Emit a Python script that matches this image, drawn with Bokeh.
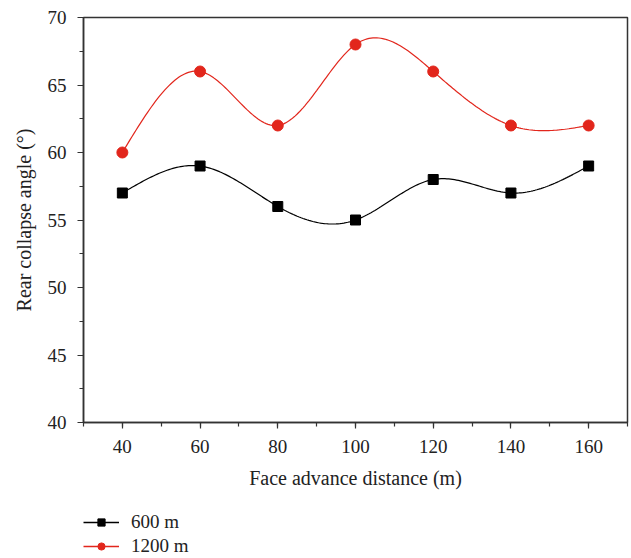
import numpy as np
from bokeh.plotting import figure
from bokeh.layouts import column
from bokeh.models import Range1d, Legend, LegendItem, FixedTicker
from bokeh.embed import file_html
from bokeh.resources import INLINE

distance = [40, 60, 80, 100, 120, 140, 160]
angle_600 = [57, 59, 56, 55, 58, 57, 59]
angle_1200 = [60, 66, 62, 68, 66, 62, 62]
x_ticks = [40, 60, 80, 100, 120, 140, 160]
y_ticks = [40, 45, 50, 55, 60, 65, 70]
series_names = ["600 m", "1200 m"]

FONT = "Liberation Serif"
RED = "#e2261c"


def natural_spline(x, y, n=40):
    x = np.asarray(x, float)
    y = np.asarray(y, float)
    k = len(x)
    h = np.diff(x)
    A = np.zeros((k, k))
    b = np.zeros(k)
    A[0, 0] = 1
    A[-1, -1] = 1
    for i in range(1, k - 1):
        A[i, i - 1] = h[i - 1]
        A[i, i] = 2 * (h[i - 1] + h[i])
        A[i, i + 1] = h[i]
        b[i] = 6 * ((y[i + 1] - y[i]) / h[i] - (y[i] - y[i - 1]) / h[i - 1])
    M = np.linalg.solve(A, b)
    xs, ys = [], []
    for i in range(k - 1):
        t = np.linspace(x[i], x[i + 1], n, endpoint=(i == k - 2))
        a = x[i + 1] - t
        c = t - x[i]
        s = (M[i] * a ** 3 + M[i + 1] * c ** 3) / (6 * h[i]) \
            + (y[i] / h[i] - M[i] * h[i] / 6) * a \
            + (y[i + 1] / h[i] - M[i + 1] * h[i] / 6) * c
        xs.extend(t)
        ys.extend(s)
    return xs, ys


p = figure(width=631, height=500, output_backend="svg", toolbar_location=None,
           x_range=Range1d(30, 170), y_range=Range1d(40, 70),
           min_border_left=83, min_border_right=4, min_border_top=17, min_border_bottom=78)

sx, sy = natural_spline(distance, angle_600)
p.line(sx, sy, line_color="black", line_width=1.2)
p.scatter(distance, angle_600, marker="square", size=10, fill_color="black", line_color="black")
sx2, sy2 = natural_spline(distance, angle_1200)
p.line(sx2, sy2, line_color=RED, line_width=1.2)
p.scatter(distance, angle_1200, marker="circle", size=11, fill_color=RED, line_color=RED)

p.grid.visible = False
p.outline_line_color = "#333333"
p.outline_line_width = 1.5

for ax in (p.xaxis[0], p.yaxis[0]):
    ax.axis_line_color = "#333333"
    ax.axis_line_width = 1.5
    ax.major_tick_line_color = "#333333"
    ax.minor_tick_line_color = "#333333"
    ax.major_tick_line_width = 1.2
    ax.minor_tick_line_width = 1.2
    ax.major_tick_out = 6
    ax.major_tick_in = 0
    ax.minor_tick_out = 4
    ax.minor_tick_in = 0
    ax.major_label_text_font = FONT
    ax.major_label_text_font_size = "19px"
    ax.major_label_text_color = "#222222"
    ax.axis_label_text_font = FONT
    ax.axis_label_text_font_size = "20px"
    ax.axis_label_text_font_style = "normal"
    ax.axis_label_text_color = "#222222"

p.xaxis[0].ticker = FixedTicker(ticks=x_ticks, minor_ticks=[30 + 10 * i for i in range(15)])
p.yaxis[0].ticker = FixedTicker(ticks=y_ticks, minor_ticks=[40 + 2.5 * i for i in range(13)])
p.xaxis[0].axis_label = "Face advance distance (m)"
p.yaxis[0].axis_label = "Rear collapse angle (°)"
p.xaxis[0].major_label_standoff = 11
p.xaxis[0].axis_label_standoff = 11
p.yaxis[0].major_label_standoff = 11
p.yaxis[0].axis_label_standoff = 10

# legend-only strip below the chart
q = figure(width=631, height=58, output_backend="svg", toolbar_location=None,
           x_axis_type=None, y_axis_type=None, x_range=Range1d(0, 1), y_range=Range1d(0, 1),
           min_border=0)
q.outline_line_color = None
q.grid.visible = False
ql1 = q.line([-5, -4], [-5, -4], line_color="black", line_width=1.3)
qm1 = q.scatter([-5], [-5], marker="square", size=8, fill_color="black", line_color="black")
ql2 = q.line([-5, -4], [-5, -4], line_color=RED, line_width=1.3)
qm2 = q.scatter([-5], [-5], marker="circle", size=8, fill_color=RED, line_color=RED)

legend = Legend(items=[LegendItem(label=series_names[0], renderers=[ql1, qm1]),
                       LegendItem(label=series_names[1], renderers=[ql2, qm2])],
                location=(0, 1), orientation="vertical",
                border_line_color=None, background_fill_alpha=0,
                glyph_width=36, glyph_height=18, label_standoff=12, spacing=2,
                padding=0, margin=0,
                label_text_font=FONT, label_text_font_size="19px", label_text_color="#222222")
q.add_layout(legend, "center")

open("out.html", "w").write(file_html(column(p, q, spacing=0), INLINE))
